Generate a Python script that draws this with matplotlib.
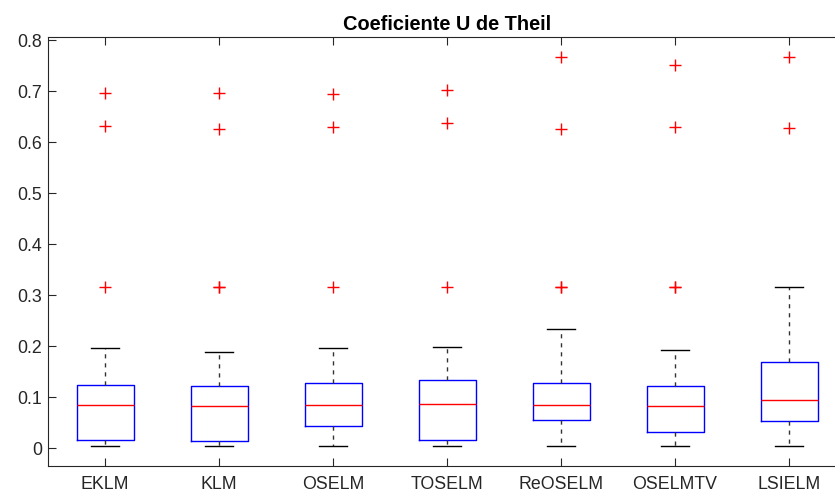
import matplotlib
matplotlib.use("Agg")
import matplotlib.pyplot as plt

# Box statistics per method
methods = ["EKLM", "KLM", "OSELM", "TOSELM", "ReOSELM", "OSELMTV", "LSIELM"]
whislo = [0.0033, 0.0033, 0.0033, 0.0033, 0.0033, 0.0033, 0.0033]
q1 = [0.0150, 0.0144, 0.0430, 0.0163, 0.0556, 0.0326, 0.0540]
med = [0.0837, 0.0817, 0.0850, 0.0870, 0.0850, 0.0824, 0.0940]
q3 = [0.1230, 0.1216, 0.1270, 0.1340, 0.1270, 0.1210, 0.1690]
whishi = [0.1960, 0.1880, 0.1960, 0.1990, 0.2327, 0.1915, 0.3157]
outliers = [
    [0.3157, 0.6310, 0.6970],
    [0.3157, 0.3165, 0.6260, 0.6955],
    [0.3157, 0.6300, 0.6935],
    [0.3157, 0.6365, 0.7026],
    [0.3157, 0.3165, 0.6255, 0.7660],
    [0.3157, 0.3165, 0.6288, 0.7516],
    [0.6270, 0.7670],
]
yticks = [0, 0.1, 0.2, 0.3, 0.4, 0.5, 0.6, 0.7, 0.8]

plt.rcParams["font.family"] = ["Liberation Sans", "DejaVu Sans"]

stats = []
for i, name in enumerate(methods):
    stats.append(dict(label=name, whislo=whislo[i], q1=q1[i], med=med[i],
                      q3=q3[i], whishi=whishi[i], fliers=outliers[i]))

fig = plt.figure(figsize=(8.35, 4.93), dpi=100)
ax = fig.add_axes([48 / 835, 27 / 493, 798 / 835, 429 / 493])

dark = (0.15, 0.15, 0.15)
ax.bxp(stats, widths=0.5, showfliers=True,
       boxprops=dict(color="blue", linewidth=1.0),
       medianprops=dict(color="red", linewidth=1.0),
       whiskerprops=dict(color=(0.2, 0.2, 0.2), linewidth=1.0,
                         linestyle=(0, (3, 3.5))),
       capprops=dict(color="black", linewidth=1.0),
       capwidths=0.25,
       flierprops=dict(marker="+", markeredgecolor="red", markersize=8,
                       markeredgewidth=1.0, linestyle="none"))

ax.set_xlim(0.5, 7.5)
ax.set_ylim(-0.035, 0.806)
ax.set_yticks(yticks)
ax.set_yticklabels([f"{t:g}" for t in yticks])
ax.tick_params(axis="both", direction="in", length=6, width=0.8,
               colors=dark, labelsize=12.8, labelcolor=dark)
ax.tick_params(axis="x", top=True, pad=7)
ax.tick_params(axis="y", pad=4)
for sp in ax.spines.values():
    sp.set_color(dark)
    sp.set_linewidth(0.8)

ax.set_title("Coeficiente U de Theil", fontsize=14.4, fontweight="bold", pad=5)

fig.savefig("out.png", dpi=100)
